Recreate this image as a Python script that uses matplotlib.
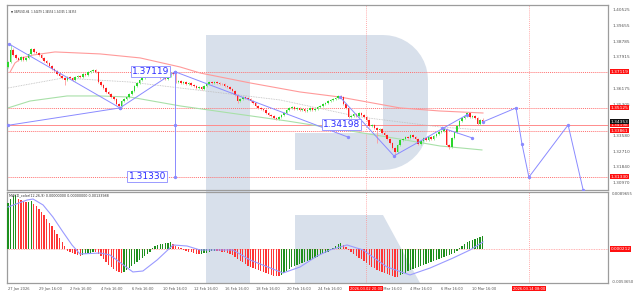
import numpy as np
import matplotlib
matplotlib.use('Agg')
import matplotlib.pyplot as plt
from matplotlib.patches import Polygon

# ---------------- data ----------------
symbol_head = 'GBPUSD,H4  1.34479 1.34554 1.34345 1.34353'
macd_head = 'MACD_color(12,26,9) 0.00000000 0.00000000 0.00133988'

first_open = 1.3738
closes = [
    1.3766, 1.3832, 1.3804, 1.3788, 1.3777, 1.3793, 1.3777, 1.3788, 1.3810, 1.3837,
    1.3821, 1.3815, 1.3804, 1.3788, 1.3771, 1.3760, 1.3743, 1.3727, 1.3716, 1.3699,
    1.3688, 1.3677, 1.3666, 1.3683, 1.3677, 1.3666, 1.3683, 1.3688, 1.3683, 1.3699,
    1.3694, 1.3710, 1.3716, 1.3721, 1.3710, 1.3655, 1.3639, 1.3622, 1.3600, 1.3589,
    1.3572, 1.3561, 1.3534, 1.3523, 1.3550, 1.3561, 1.3572, 1.3589, 1.3605, 1.3633,
    1.3650, 1.3666, 1.3677, 1.3688, 1.3699, 1.3694, 1.3705, 1.3699, 1.3688, 1.3677,
    1.3683, 1.3672, 1.3688, 1.3705, 1.3699, 1.3655, 1.3661, 1.3650, 1.3655, 1.3644,
    1.3650, 1.3639, 1.3633, 1.3622, 1.3627, 1.3616, 1.3633, 1.3644, 1.3655, 1.3650,
    1.3655, 1.3650, 1.3644, 1.3642, 1.3633, 1.3627, 1.3616, 1.3605, 1.3583, 1.3550,
    1.3561, 1.3572, 1.3567, 1.3561, 1.3550, 1.3539, 1.3523, 1.3512, 1.3506, 1.3501,
    1.3484, 1.3473, 1.3467, 1.3456, 1.3451, 1.3462, 1.3473, 1.3484, 1.3501, 1.3512,
    1.3517, 1.3506, 1.3512, 1.3501, 1.3506, 1.3495, 1.3501, 1.3512, 1.3501, 1.3506,
    1.3517, 1.3523, 1.3534, 1.3539, 1.3550, 1.3556, 1.3561, 1.3567, 1.3578, 1.3572,
    1.3534, 1.3512, 1.3462, 1.3467, 1.3478, 1.3467, 1.3484, 1.3473, 1.3462, 1.3445,
    1.3412, 1.3418, 1.3401, 1.3390, 1.3396, 1.3374, 1.3363, 1.3340, 1.3318, 1.3290,
    1.3269, 1.3307, 1.3335, 1.3340, 1.3351, 1.3346, 1.3363, 1.3351, 1.3340, 1.3313,
    1.3329, 1.3346, 1.3335, 1.3351, 1.3340, 1.3357, 1.3368, 1.3379, 1.3385, 1.3396,
    1.3307, 1.3296, 1.3346, 1.3379, 1.3412, 1.3440, 1.3456, 1.3467, 1.3484, 1.3462,
    1.3467, 1.3456, 1.3423, 1.3448, 1.3435,
]
highs = [
    1.3772, 1.3860, 1.3840, 1.3810, 1.3795, 1.3800, 1.3798, 1.3795, 1.3816, 1.3845,
    1.3842, 1.3828, 1.3820, 1.3810, 1.3793, 1.3777, 1.3766, 1.3750, 1.3733, 1.3722,
    1.3705, 1.3694, 1.3683, 1.3690, 1.3690, 1.3683, 1.3689, 1.3695, 1.3694, 1.3705,
    1.3706, 1.3716, 1.3723, 1.3728, 1.3727, 1.3716, 1.3662, 1.3645, 1.3628, 1.3606,
    1.3595, 1.3578, 1.3567, 1.3540, 1.3556, 1.3567, 1.3578, 1.3595, 1.3611, 1.3639,
    1.3656, 1.3672, 1.3683, 1.3694, 1.3705, 1.3706, 1.3711, 1.3711, 1.3705, 1.3694,
    1.3689, 1.3689, 1.3694, 1.3712, 1.3710, 1.3705, 1.3668, 1.3667, 1.3662, 1.3661,
    1.3656, 1.3656, 1.3645, 1.3639, 1.3633, 1.3633, 1.3639, 1.3650, 1.3661, 1.3661,
    1.3661, 1.3661, 1.3656, 1.3650, 1.3648, 1.3639, 1.3633, 1.3622, 1.3611, 1.3589,
    1.3567, 1.3578, 1.3578, 1.3573, 1.3567, 1.3556, 1.3545, 1.3529, 1.3518, 1.3512,
    1.3507, 1.3490, 1.3479, 1.3473, 1.3462, 1.3468, 1.3479, 1.3490, 1.3507, 1.3518,
    1.3523, 1.3523, 1.3518, 1.3518, 1.3512, 1.3512, 1.3507, 1.3518, 1.3518, 1.3512,
    1.3523, 1.3529, 1.3540, 1.3545, 1.3556, 1.3562, 1.3567, 1.3573, 1.3584, 1.3584,
    1.3578, 1.3540, 1.3518, 1.3473, 1.3484, 1.3484, 1.3490, 1.3490, 1.3479, 1.3468,
    1.3451, 1.3424, 1.3424, 1.3407, 1.3402, 1.3402, 1.3380, 1.3369, 1.3346, 1.3324,
    1.3296, 1.3313, 1.3341, 1.3346, 1.3357, 1.3357, 1.3369, 1.3369, 1.3357, 1.3346,
    1.3335, 1.3352, 1.3352, 1.3357, 1.3357, 1.3363, 1.3374, 1.3385, 1.3391, 1.3402,
    1.3402, 1.3313, 1.3352, 1.3385, 1.3418, 1.3446, 1.3462, 1.3473, 1.3490, 1.3490,
    1.3473, 1.3473, 1.3462, 1.3452, 1.3455,
]
lows = [
    1.3730, 1.3760, 1.3798, 1.3780, 1.3770, 1.3772, 1.3770, 1.3772, 1.3783, 1.3805,
    1.3815, 1.3808, 1.3797, 1.3780, 1.3765, 1.3752, 1.3736, 1.3720, 1.3708, 1.3692,
    1.3680, 1.3670, 1.3640, 1.3660, 1.3670, 1.3658, 1.3660, 1.3677, 1.3676, 1.3678,
    1.3688, 1.3689, 1.3704, 1.3710, 1.3703, 1.3648, 1.3632, 1.3615, 1.3593, 1.3582,
    1.3565, 1.3554, 1.3527, 1.3512, 1.3518, 1.3545, 1.3556, 1.3567, 1.3584, 1.3600,
    1.3628, 1.3645, 1.3661, 1.3672, 1.3683, 1.3688, 1.3689, 1.3693, 1.3682, 1.3671,
    1.3672, 1.3666, 1.3667, 1.3683, 1.3693, 1.3648, 1.3649, 1.3644, 1.3645, 1.3638,
    1.3639, 1.3633, 1.3627, 1.3616, 1.3617, 1.3610, 1.3611, 1.3628, 1.3639, 1.3644,
    1.3645, 1.3644, 1.3638, 1.3636, 1.3627, 1.3621, 1.3610, 1.3599, 1.3577, 1.3540,
    1.3544, 1.3556, 1.3561, 1.3555, 1.3544, 1.3533, 1.3517, 1.3506, 1.3500, 1.3495,
    1.3478, 1.3467, 1.3461, 1.3450, 1.3445, 1.3446, 1.3457, 1.3468, 1.3479, 1.3496,
    1.3507, 1.3500, 1.3501, 1.3495, 1.3496, 1.3489, 1.3490, 1.3496, 1.3495, 1.3496,
    1.3501, 1.3512, 1.3518, 1.3529, 1.3534, 1.3545, 1.3551, 1.3556, 1.3562, 1.3566,
    1.3528, 1.3506, 1.3456, 1.3456, 1.3462, 1.3461, 1.3462, 1.3467, 1.3456, 1.3439,
    1.3406, 1.3406, 1.3395, 1.3318, 1.3384, 1.3368, 1.3357, 1.3334, 1.3312, 1.3284,
    1.3247, 1.3263, 1.3301, 1.3329, 1.3334, 1.3340, 1.3340, 1.3345, 1.3334, 1.3307,
    1.3307, 1.3323, 1.3329, 1.3329, 1.3334, 1.3334, 1.3351, 1.3362, 1.3373, 1.3379,
    1.3301, 1.3285, 1.3290, 1.3340, 1.3373, 1.3406, 1.3434, 1.3450, 1.3461, 1.3456,
    1.3456, 1.3450, 1.3417, 1.3417, 1.3434,
]

# MACD histogram, units of 1e-4
macd_hist = [
    75.4, 82.0, 86.9, 88.6, 82.0, 80.4, 78.7, 77.1, 77.9, 78.7,
    73.8, 70.5, 65.6, 60.7, 55.8, 49.2, 42.6, 37.7, 31.2, 24.6, 18.0, 11.5, 4.9,
    -3.3, -4.9, -6.6, -8.2, -9.8, -11.5,
    -9.8, -8.2, -7.4, -6.6, -4.9, -5.7,
    -8.2, -11.5, -16.4, -21.3, -26.2, -29.5, -32.8, -36.1, -37.7, -39.4,
    -37.7, -34.4, -31.2, -27.9, -24.6, -21.3, -18.0, -14.8, -11.5, -8.2, -4.9,
    1.6, 4.9, 6.6, 8.2,
    9.0, 9.5, 9.8, 10.7,
    8.2, 4.9, 3.3, 1.6,
    -1.6, -3.3, -4.9, -5.7, -6.6, -8.2, -9.0,
    -8.2, -7.4, -6.6, -4.9, -4.1, -3.3, -3.6, -4.1, -4.9, -5.7, -6.6, -8.2, -9.8, -13.1,
    -16.4, -19.7, -21.3, -24.6, -27.9, -29.5, -31.2, -32.8, -34.4, -36.1, -37.7, -39.4,
    -41.0, -42.6, -43.5, -44.3, -45.1,
    -42.6, -39.4, -36.1, -32.8, -29.5, -27.9, -26.2, -24.6, -23.0, -21.3, -19.7, -18.0,
    -16.4, -14.8, -13.1,
    -9.8, -8.2, -6.6, -4.9, -1.6, 1.6, 4.9, 8.2, 9.8,
    6.6, 3.3, -1.6, -4.9, -8.2, -11.5, -14.8, -16.4, -19.7, -23.0, -26.2, -29.5, -31.2,
    -34.4, -36.1, -37.7, -39.4, -41.0, -42.6, -44.3, -45.9, -46.7,
    -42.6, -41.0, -39.4, -36.1, -34.4, -32.8, -31.2, -29.5, -27.9, -26.2, -24.6, -23.0,
    -21.3, -19.7, -18.0, -16.4, -14.8, -13.1, -11.5, -9.8, -8.2, -6.6, -3.3,
    1.6, 4.9, 8.2, 11.5, 13.1, 14.8, 16.4, 18.0, 19.7, 21.3,
]
sig_idx = [0, 7.4, 9.7, 13.6, 17.4, 21.3, 24.8, 27.9, 35.7, 39.5, 48.4, 52.3, 57.8, 64,
           69.4, 74.4, 87.2, 93.8, 106.6, 113.2, 119.8, 124.8, 131.4, 137.6, 146.9,
           155.8, 163.6, 172.5, 179.1, 184.1]
sig_val = [68.9, 80.4, 82.0, 72.2, 52.5, 27.9, 6.6, -8.2, -6.6, -9.8, -37.7, -36.1, -18.0,
           6.6, 4.9, -1.6, -1.6, -18.0, -39.4, -29.5, -11.5, -1.6, 6.6, -1.6, -29.5,
           -42.6, -31.2, -14.8, -1.6, 11.5]

# moving averages on the price panel (bar index, price)
ma_red_idx = [0.8, 2.7, 5.4, 9.7, 18.2, 35.7, 51.2, 66.7, 74.4, 93.8, 113.2, 128.7, 151.9, 167.4, 184.1]
ma_red_val = [1.3710, 1.3760, 1.3788, 1.3804, 1.3821, 1.3810, 1.3788, 1.3738, 1.3705,
              1.3650, 1.3600, 1.3572, 1.3512, 1.3495, 1.3484]
ma_green_idx = [0, 8.5, 22.9, 35.7, 47.3, 66.7, 86.0, 108.1, 132.6, 151.9, 167.4, 183.7]
ma_green_val = [1.3512, 1.3550, 1.3578, 1.3578, 1.3572, 1.3523, 1.3484, 1.3440, 1.3385,
                1.3340, 1.3302, 1.3280]
ma_gray_idx = [0, 21.3, 47.3, 66.7, 105.4, 136.4, 167.4, 183.7]
ma_gray_val = [1.3622, 1.3677, 1.3655, 1.3622, 1.3556, 1.3462, 1.3407, 1.3390]

# blue wave marking / forecast, each a polyline of (bar index, price)
wave_lines = [
    ([0, 43.4], [1.3416, 1.3512]),
    ([0.4, 43.4, 64.7], [1.3865, 1.3512, 1.37119]),
    ([64.7, 64.7, 64.7], [1.37119, 1.3418, 1.31330]),
    ([64.7, 131.8], [1.37119, 1.3351]),
    ([128.7, 149.6, 177.9], [1.3572, 1.3247, 1.3474]),
    ([168.2, 179.8], [1.3402, 1.3347]),
    ([184.1, 196.9, 199.2, 201.9, 217.1, 222.9], [1.3435, 1.3512, 1.3314, 1.3130, 1.3418, 1.3061]),
]
box_labels = [(62.4, 1.37119, '1.37119'), (136.4, 1.34198, '1.34198'), (61.2, 1.31330, '1.31330')]

dotted_levels = [1.37119, 1.35125, 1.33861, 1.31330]
solid_level = 1.34198
vline_idx = [138.8, 201.9]
vline_text = ['2026.03.02 20:00', '2026.03.14 08:00']

price_ticks = [1.40525, 1.39655, 1.38785, 1.37915, 1.36175, 1.35305, 1.33580, 1.32710, 1.31840, 1.30970]
red_tags = [1.37119, 1.35125, 1.34198, 1.33861, 1.31330]
bid = 1.34353
macd_ticks = [(89.655, '0.0089655'), (-53.65, '-0.0053650')]
macd_tag = (0.0, '0.000212')

date_idx = [0, 12, 24, 36, 48, 60, 72, 84, 96, 108, 120, 144, 156, 168, 180]
date_text = ['27 Jan 2026', '29 Jan 16:00', '2 Feb 16:00', '4 Feb 16:00', '6 Feb 16:00',
             '10 Feb 16:00', '12 Feb 16:00', '16 Feb 16:00', '18 Feb 16:00', '20 Feb 16:00',
             '24 Feb 16:00', '2 Mar 16:00', '4 Mar 16:00', '6 Mar 16:00', '10 Mar 16:00']

# ---------------- figure ----------------
W, H = 638, 297
fig = plt.figure(figsize=(W / 100, H / 100), dpi=100)
fig.patch.set_facecolor('white')

# watermark logo in pixel space
bg = fig.add_axes([0, 0, 1, 1], zorder=0)
bg.set_xlim(0, W)
bg.set_ylim(H, 0)
bg.axis('off')
wm = '#d8e0eb'
bg.add_patch(Polygon([(206, 35), (250, 35), (250, 283), (206, 283)], closed=True, color=wm, lw=0))
t1 = np.linspace(-np.pi / 2, 0, 12)
t2 = np.linspace(0, np.pi / 2, 12)
bowl = [(250, 35)] + [(383 + 45 * np.cos(t), 80 + 45 * np.sin(t)) for t in t1] + \
       [(383 + 45 * np.cos(t), 125 + 45 * np.sin(t)) for t in t2] + \
       [(295, 170), (295, 133), (383, 133), (383, 80), (250, 80)]
bg.add_patch(Polygon(bowl, closed=True, color=wm, lw=0))
bg.add_patch(Polygon([(295, 215), (383, 215), (420, 283), (295, 283)], closed=True, color=wm, lw=0))

x0, x1 = 7, 608
xlim = (-0.39, 232.56)
ax = fig.add_axes([x0 / W, (H - 190) / H, (x1 - x0) / W, 185 / H], zorder=1)
am = fig.add_axes([x0 / W, (H - 283) / H, (x1 - x0) / W, 91 / H], zorder=1)
for a in (ax, am):
    a.patch.set_alpha(0)
    a.set_xlim(*xlim)
    a.set_xticks([])
    a.set_yticks([])
    for s in a.spines.values():
        s.set_color('#9c9c9c')
        s.set_linewidth(0.9)
ax.set_ylim(1.30589, 1.40801)
am.set_ylim(-55.8, 93.5)

fs = 3.1
fd = 2.6
tc = '#555555'

# levels
for lv in dotted_levels:
    ax.axhline(lv, color='#ff7070', lw=0.7, ls=(0, (1, 1)), zorder=1)
ax.axhline(solid_level, color='#ff8c8c', lw=0.7, zorder=1)
for v in vline_idx:
    ax.axvline(v, color='#ff9090', lw=0.6, ls=(0, (1, 1.5)), zorder=1)
    am.axvline(v, color='#ff9090', lw=0.6, ls=(0, (1, 1.5)), zorder=1)

# moving averages
ax.plot(ma_red_idx, ma_red_val, color='#ff9a9a', lw=0.8, zorder=2)
ax.plot(ma_green_idx, ma_green_val, color='#a8e0a8', lw=0.8, zorder=2)
ax.plot(ma_gray_idx, ma_gray_val, color='#bdbdbd', lw=0.6, ls=(0, (1, 1)), zorder=2)

# candles
idx = np.arange(len(closes))
c = np.array(closes)
o = np.r_[first_open, c[:-1]]
up = c >= o
col = np.where(up, '#2bd62b', '#ff2020')
ax.vlines(idx, lows, highs, colors=np.where(up, '#8de88d', '#ff9a9a'), lw=0.6, zorder=3)
ax.bar(idx, np.maximum(np.abs(c - o), 0.0001), bottom=np.minimum(o, c), width=0.6,
       color=col, lw=0, zorder=4)

# wave lines
for xs, ys in wave_lines:
    ax.plot(xs, ys, color='#8a8aff', lw=0.7, marker='o', ms=1.4, zorder=5)
for xi, yv, t in box_labels:
    ax.text(xi, yv, t, color='#2a2aff', fontsize=6.5, ha='right', va='center', zorder=6,
            bbox=dict(boxstyle='square,pad=0.12', fc='white', ec='#9a9aff', lw=0.7))

# price axis labels
ytr = ax.get_yaxis_transform()
tag = dict(boxstyle='square,pad=0.15', ec='none')
for p in price_ticks:
    ax.text(1.007, p, '%.5f' % p, transform=ytr, fontsize=fs, color=tc, va='center', ha='left')
for p in red_tags:
    ax.text(1.004, p, '%.5f' % p, transform=ytr, fontsize=fs, color='white', va='center', ha='left',
            bbox=dict(fc='#ff1010', **tag))
ax.text(1.004, bid, '%.5f' % bid, transform=ytr, fontsize=fs, color='white', va='center', ha='left',
        bbox=dict(fc='#111111', **tag))
ax.text(0.006, 0.975, '\u25bc ' + symbol_head, transform=ax.transAxes, fontsize=1.9, color='#333333',
        va='top', ha='left')

# MACD panel
h = np.array(macd_hist)
rising = np.r_[True, h[1:] > h[:-1]]
am.bar(idx, h, width=0.5, color=np.where(rising, '#1d8f1d', '#ff3535'), lw=0, zorder=3)
am.axhline(0, color='#ff9a9a', lw=0.6, ls=(0, (1, 1)), zorder=2)
am.plot(sig_idx, sig_val, color='#9a9aff', lw=0.8, zorder=4)
mtr = am.get_yaxis_transform()
for v, t in macd_ticks:
    am.text(1.007, v, t, transform=mtr, fontsize=2.8, color=tc, va='center', ha='left')
am.text(1.004, macd_tag[0], macd_tag[1], transform=mtr, fontsize=fs, color='white', va='center',
        ha='left', bbox=dict(fc='#ff1010', **tag))
am.text(0.003, 0.985, macd_head, transform=am.transAxes, fontsize=2.4, color='#333333', va='top', ha='left')

# time axis
xtr = am.get_xaxis_transform()
for i, t in zip(date_idx, date_text):
    am.text(i, -0.045, t, transform=xtr, fontsize=fd, color=tc, va='top', ha='left')
for v, t in zip(vline_idx, vline_text):
    am.text(v, -0.04, t, transform=xtr, fontsize=fd, color='white', va='top', ha='center', zorder=6,
            bbox=dict(fc='#ff1010', **tag))

fig.savefig('out.png', dpi=100)
